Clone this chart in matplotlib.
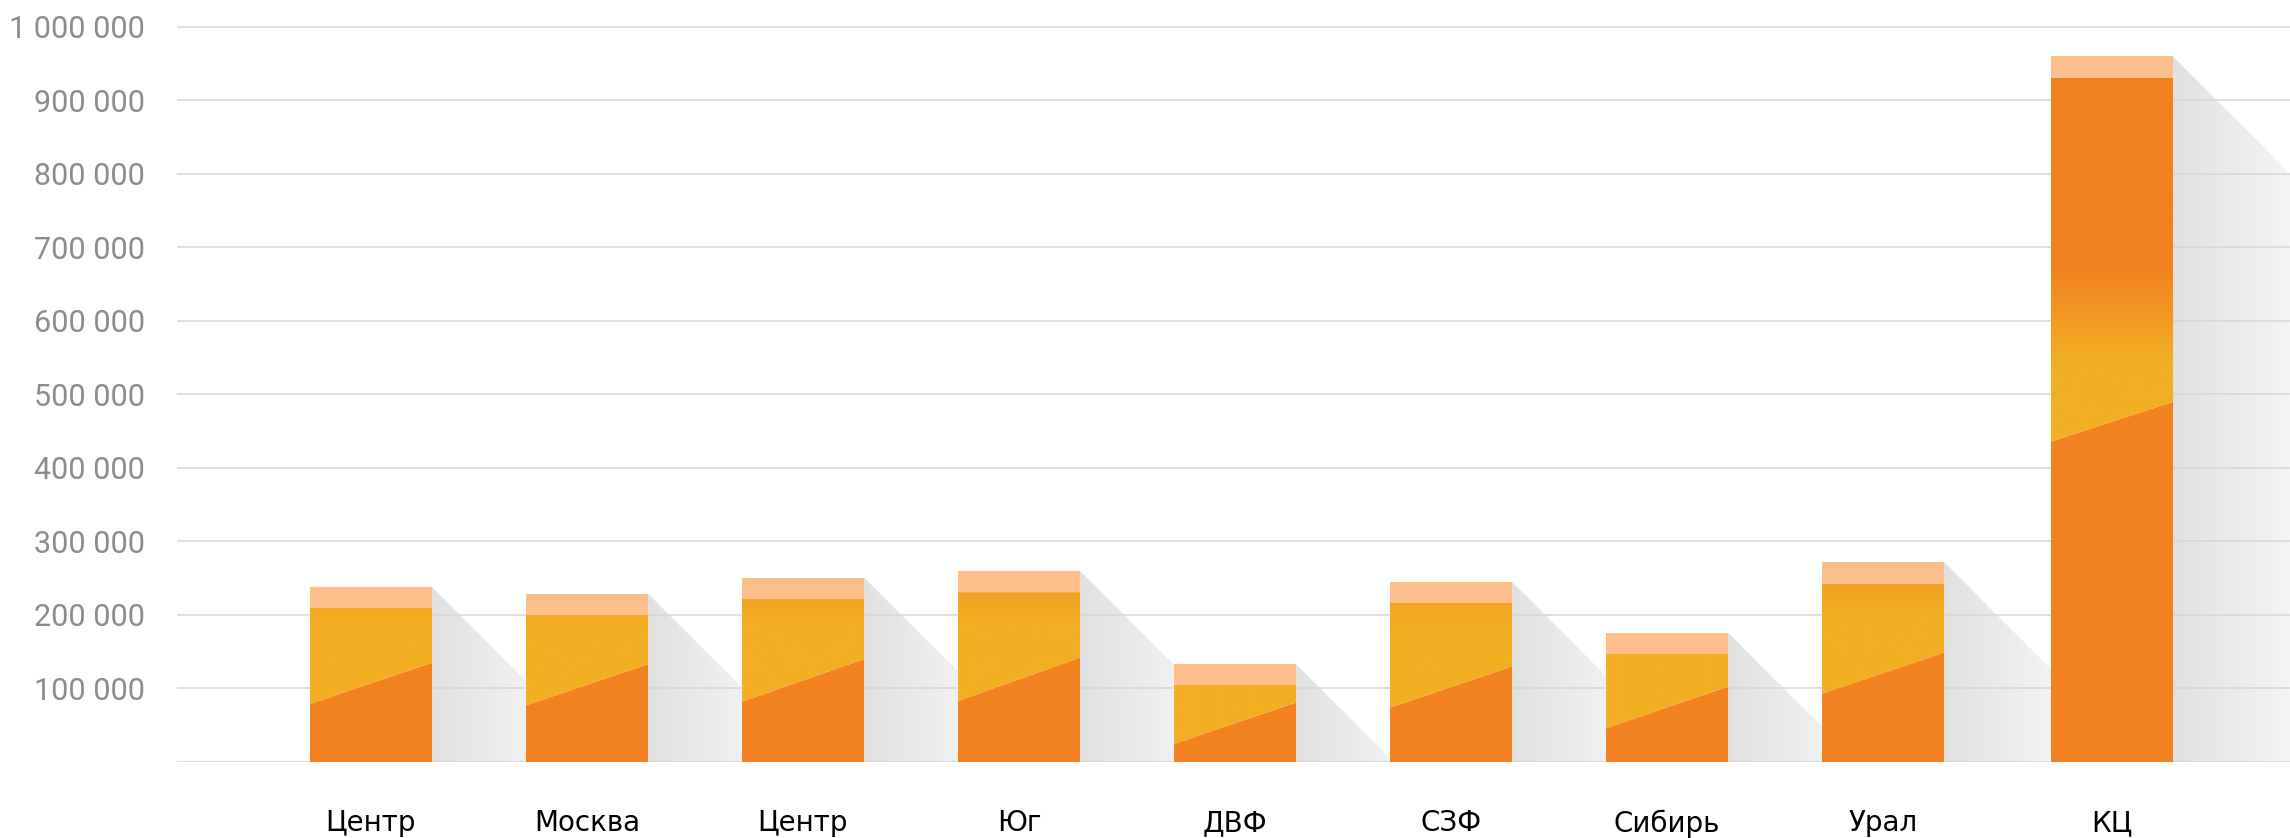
import numpy as np
import matplotlib
matplotlib.use("Agg")
import matplotlib.pyplot as plt
from matplotlib.patches import Polygon
from matplotlib.ticker import FuncFormatter

# данные (тыс.)
categories = ['Центр', 'Москва', 'Центр', 'Юг', 'ДВФ', 'СЗФ', 'Сибирь', 'Урал', 'КЦ']
low_left = [79, 77, 82, 83, 24.5, 74, 46, 93, 436]
low_right = [135, 133, 140, 142, 81, 130, 102.5, 149, 490]
mid_top = [210, 200, 222, 231, 105, 217, 147, 243, 931]
total = [238, 229, 251, 260, 133, 245, 176, 272, 960]
positions = [0, 1, 2, 3, 4, 5, 6, 7, 8.06]

ORANGE = np.array([242, 130, 32]) / 255
YELLOW = np.array([243, 175, 35]) / 255
PEACH = '#fdc08d'
SH_NEAR = np.array([225, 225, 225]) / 255
SH_FAR = np.array([245, 245, 245]) / 255

W, H, DPI = 2290, 838, 100
fig = plt.figure(figsize=(W / DPI, H / DPI), dpi=DPI)
ax = fig.add_axes([177 / W, 76 / H, 2113 / W, 742 / H])
YTOP = 1_009_500
XL = (-0.898, 8.884)
ax.set_xlim(*XL)
ax.set_ylim(0, YTOP)

px_x = 2113 / (XL[1] - XL[0])
px_y = 742 / YTOP
bw = 0.565
grad_len = 0.55  # длина градиента тени, в единицах оси x


def clipped_image(img, extent, verts, z):
    poly = Polygon(verts, closed=True, facecolor='none', edgecolor='none',
                   transform=ax.transData)
    ax.add_patch(poly)
    im = ax.imshow(img, extent=extent, aspect='auto', origin='lower',
                   interpolation='bilinear', zorder=z)
    im.set_clip_path(poly)


for i in range(len(categories)):
    x = positions[i]
    xl, xr = x - bw / 2, x + bw / 2
    bl, br = low_left[i] * 1000, low_right[i] * 1000
    mt, tt = mid_top[i] * 1000, total[i] * 1000

    # тень
    dx = tt * px_y / px_x
    xs = np.linspace(xr, xr + dx, 400)
    t = np.clip((xs - xr) / grad_len, 0, 1)
    sh = SH_NEAR[None, :] * (1 - t[:, None]) + SH_FAR[None, :] * t[:, None]
    clipped_image(sh[None, :, :], [xr, xr + dx, 0, tt],
                  [(xr, tt), (xr + dx, 0), (xr, 0)], 1)

    # нижняя часть
    ax.add_patch(Polygon([(xl, 0), (xr, 0), (xr, br), (xl, bl)], closed=True,
                         facecolor=ORANGE, edgecolor='none', zorder=3))

    # средняя часть с градиентом
    v = np.linspace(min(bl, br), mt, 400)
    mix = np.clip((v - (bl + br) / 2 - 80000) / 130000, 0, 1)
    col = YELLOW[None, :] * (1 - mix[:, None]) + ORANGE[None, :] * mix[:, None]
    clipped_image(col[:, None, :], [xl, xr, min(bl, br), mt],
                  [(xl, bl), (xr, br), (xr, mt), (xl, mt)], 3)

    # верхняя часть
    ax.add_patch(Polygon([(xl, mt), (xr, mt), (xr, tt), (xl, tt)], closed=True,
                         facecolor=PEACH, edgecolor='none', zorder=3))

ax.set_xlim(*XL)
ax.set_ylim(0, YTOP)

ax.set_yticks(np.arange(0, 1_000_001, 100_000))
ax.yaxis.set_major_formatter(FuncFormatter(
    lambda v, p: '' if v == 0 else f'{int(v):,}'.replace(',', ' ')))
ax.grid(axis='y', color='#d6d6d6', linewidth=1.1)
ax.set_axisbelow(False)
for g in ax.get_ygridlines():
    g.set_zorder(2)

ax.set_xticks(positions)
ax.set_xticklabels(categories)
ax.tick_params(axis='y', length=0, pad=23, labelsize=22, labelcolor='#8c8c8c')
ax.tick_params(axis='x', length=0, pad=34, labelsize=20, labelcolor='#000000')
for lab in ax.get_yticklabels():
    lab.set_fontfamily('Roboto')
for lab in ax.get_xticklabels():
    lab.set_fontfamily('DejaVu Sans')

for s in ax.spines.values():
    s.set_visible(False)

fig.savefig('out.png', dpi=DPI, facecolor='white')
